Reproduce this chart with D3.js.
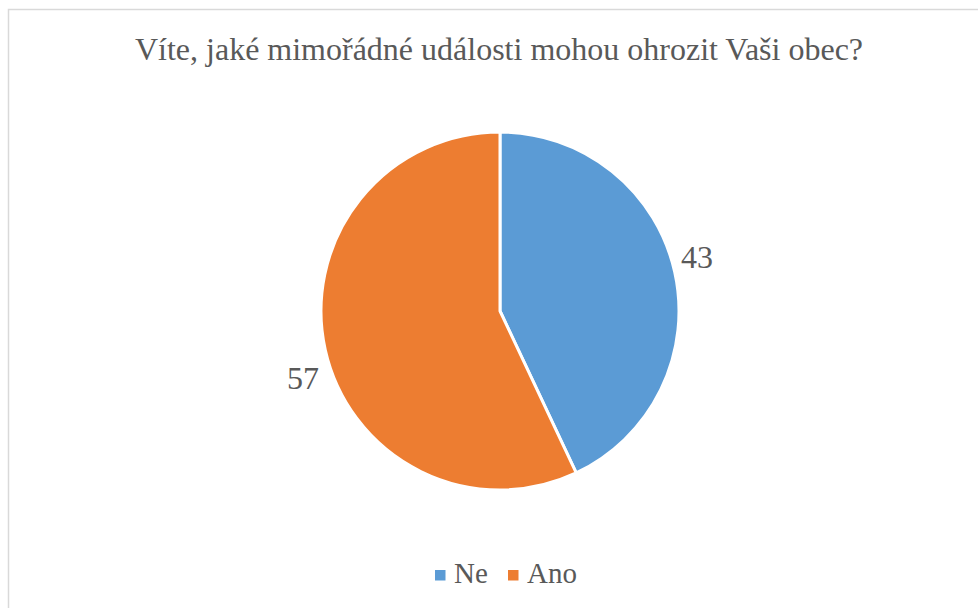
<!DOCTYPE html>
<html><head><meta charset="utf-8"><script src="https://cdn.jsdelivr.net/npm/d3@7"></script></head>
<body style="margin:0">
<script>
// Data
var categories = ["Ne", "Ano"];
var values = [43, 57];
var colors = ["#5B9BD5", "#ED7D31"];
var title = "Víte, jaké mimořádné události mohou ohrozit Vaši obec?";

var svgWidth = 978;
var svgHeight = 608;

var svg = d3.select("body")
  .append("svg")
  .attr("width", svgWidth)
  .attr("height", svgHeight);

// chart frame (runs off the right and bottom edges)
svg.append("rect")
  .attr("x", 8.5)
  .attr("y", 9.5)
  .attr("width", 1000)
  .attr("height", 1000)
  .attr("fill", "none")
  .attr("stroke", "#d9d9d9")
  .attr("stroke-width", 1.5);

svg.append("text")
  .attr("x", 499)
  .attr("y", 60)
  .attr("text-anchor", "middle")
  .attr("fill", "#595959")
  .style("font-family", "'Liberation Serif'")
  .style("font-size", "32px")
  .text(title);

var cx = 500, cy = 311, radius = 179;

var pie = d3.pie().sort(null).value(function(d) { return d; });
var arcs = pie(values);

var arc = d3.arc().innerRadius(0).outerRadius(radius);

var pieGroup = svg.append("g")
  .attr("transform", "translate(" + cx + "," + cy + ")");

pieGroup.selectAll("path")
  .data(arcs)
  .enter()
  .append("path")
  .attr("d", arc)
  .attr("fill", function(d, i) { return colors[i]; })
  .attr("stroke", "#fff")
  .attr("stroke-width", 3)
  .attr("stroke-linejoin", "round");

// labels outside the slices
var labelR = radius + 27;
var shift = -4.5 * Math.PI / 180;
pieGroup.selectAll(".lbl")
  .data(arcs)
  .enter()
  .append("text")
  .attr("class", "lbl")
  .attr("x", function(d) { return labelR * Math.sin((d.startAngle + d.endAngle) / 2 + shift); })
  .attr("y", function(d) { return -labelR * Math.cos((d.startAngle + d.endAngle) / 2 + shift); })
  .attr("dy", "0.55em")
  .attr("text-anchor", "middle")
  .attr("fill", "#595959")
  .style("font-family", "'Liberation Serif'")
  .style("font-size", "32px")
  .text(function(d) { return d.data; });

// Legend
var legend = svg.append("g").attr("transform", "translate(435,575)");
var offsets = [0, 73];
var items = legend.selectAll("g")
  .data(categories)
  .enter()
  .append("g")
  .attr("transform", function(d, i) { return "translate(" + offsets[i] + ",0)"; });

items.append("rect")
  .attr("x", 0)
  .attr("y", -5)
  .attr("width", 10.5)
  .attr("height", 10.5)
  .attr("fill", function(d, i) { return colors[i]; });

items.append("text")
  .attr("x", 19)
  .attr("y", 8)
  .attr("fill", "#595959")
  .style("font-family", "'Liberation Serif'")
  .style("font-size", "29px")
  .text(function(d) { return d; });
</script>
</body>
</html>
